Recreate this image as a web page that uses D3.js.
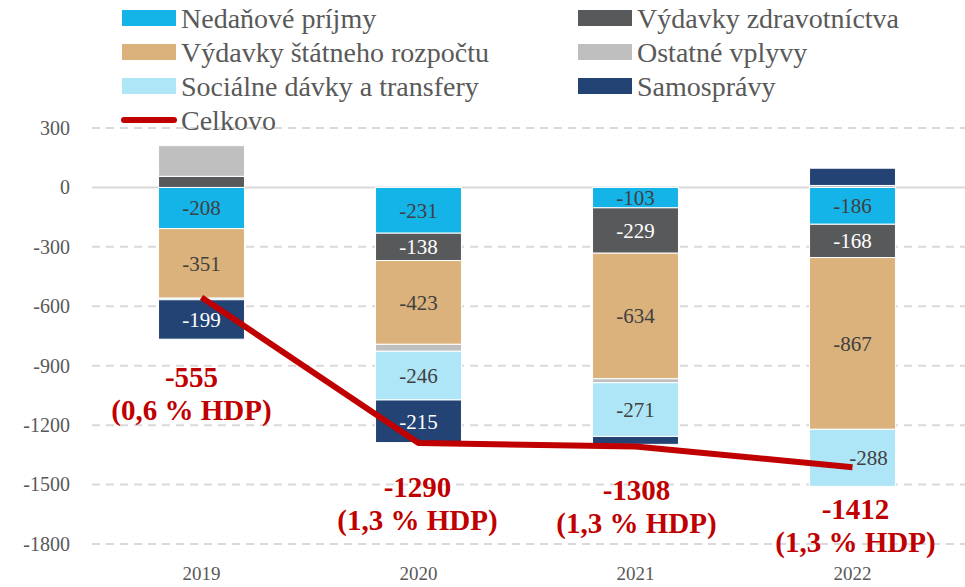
<!DOCTYPE html>
<html>
<head>
<meta charset="utf-8">
<script src="https://cdn.jsdelivr.net/npm/d3@7"></script>
<style>
  body { margin: 0; background: #fff; }
  svg text { font-family: "Liberation Serif", "DejaVu Serif", serif; }
</style>
</head>
<body>
<div id="chart"></div>
<script>
// data
const years = ['2019', '2020', '2021', '2022']
const seriesNames = ['Nedaňové príjmy', 'Výdavky zdravotníctva', 'Výdavky štátneho rozpočtu',
                     'Ostatné vplyvy', 'Sociálne dávky a transfery', 'Samosprávy']
const nedanove = [-208, -231, -103, -186]
const zdravotnictvo = [56, -138, -229, -168]
const statnyRozpocet = [-351, -423, -634, -867]
const ostatne = [155, -35, -20, 10]
const socialne = [-8, -246, -271, -288]
const samospravy = [-199, -215, -40, 87]
const celkovo = [-555, -1290, -1308, -1412]
const hdp = ['0,6', '1,3', '1,3', '1,3']
const yTicks = [300, 0, -300, -600, -900, -1200, -1500, -1800]

const colors = ['#14B4E9', '#58595B', '#DBB27B', '#BFBFBF', '#AEE6F8', '#234374']
const labelColors = ['#404040', '#ffffff', '#404040', '#404040', '#404040', '#ffffff']
const lineColor = '#C00000'
const fontFam = '"Liberation Serif", serif'

const width = 965, height = 587

var svg = d3.select('#chart').append('svg')
    .attr('width', width)
    .attr('height', height)

var x = d3.scaleBand()
    .domain(years)
    .range([93, 961])
    .paddingInner(0.604)
    .paddingOuter(0.302)

var y = d3.scaleLinear()
    .domain([-1800, 300])
    .range([544, 128])

// table for the stack
const allSeries = [nedanove, zdravotnictvo, statnyRozpocet, ostatne, socialne, samospravy]
const table = years.map((yr, i) => {
    let row = {year: yr}
    seriesNames.forEach((s, j) => row[s] = allSeries[j][i])
    return row
})

const stacked = d3.stack()
    .keys(seriesNames)
    .offset(d3.stackOffsetDiverging)(table)

// gridlines
svg.append('g')
    .selectAll('line')
    .data(yTicks)
    .enter()
    .append('line')
    .attr('x1', 92)
    .attr('x2', width)
    .attr('y1', d => y(d))
    .attr('y2', d => y(d))
    .style('stroke', '#D9D9D9')
    .style('stroke-width', 2)
    .style('stroke-dasharray', d => d === 0 ? null : '8,6')

// y axis labels (plain hyphen, no thousands separator)
var yAxis = d3.axisLeft(y).tickValues(yTicks).tickSize(0).tickPadding(0)
    .tickFormat(d => String(d))
svg.append('g')
    .attr('transform', 'translate(70,0)')
    .call(yAxis)
    .attr('font-family', fontFam)
    .attr('font-size', 20)
    .call(g => g.select('.domain').remove())
    .selectAll('text')
    .style('fill', '#595959')

// x axis labels
var xAxis = d3.axisBottom(x).tickSize(0).tickPadding(0)
svg.append('g')
    .attr('transform', 'translate(0,566)')
    .call(xAxis)
    .attr('font-family', fontFam)
    .attr('font-size', 19)
    .call(g => g.select('.domain').remove())
    .selectAll('text')
    .style('fill', '#595959')

// stacked bars
var layers = svg.append('g')
    .selectAll('g')
    .data(stacked)
    .enter()
    .append('g')
    .style('fill', (d, i) => colors[i])

layers.selectAll('rect')
    .data(d => d)
    .enter()
    .append('rect')
    .attr('x', d => x(d.data.year))
    .attr('width', x.bandwidth())
    .attr('y', d => y(Math.max(d[0], d[1])))
    .attr('height', d => Math.abs(y(d[0]) - y(d[1])))
    .style('stroke', '#fff')
    .style('stroke-width', 1)

// value labels inside the bigger negative segments
stacked.forEach((layer, i) => {
    svg.append('g')
        .selectAll('text')
        .data(layer.filter(d => d.data[layer.key] <= -100))
        .enter()
        .append('text')
        .attr('x', d => x.bandwidth() / 2 + x(d.data.year) + (d.data.year === '2022' && i === 4 ? 16 : 0))
        .attr('y', d => y((d[0] + d[1]) / 2))
        .attr('dy', '0.35em')
        .attr('text-anchor', 'middle')
        .style('font-size', '21px')
        .style('fill', labelColors[i])
        .text(d => String(d.data[layer.key]))
})

// total line
var line = d3.line()
    .x((d, i) => x(years[i]) + x.bandwidth() / 2)
    .y(d => y(d))

svg.append('path')
    .datum(celkovo)
    .attr('d', line)
    .style('fill', 'none')
    .style('stroke', lineColor)
    .style('stroke-width', 6)
    .style('stroke-linejoin', 'round')

// total labels
const labelDy = [81, 45, 44, 43]
const labelDx = [-10, -1, 1, 3]
var totals = svg.append('g')
    .selectAll('text')
    .data(celkovo)
    .enter()
    .append('text')
    .attr('text-anchor', 'middle')
    .style('font-weight', 'bold')
    .style('fill', lineColor)
    .style('font-size', '29px')

totals.append('tspan')
    .attr('x', (d, i) => x(years[i]) + x.bandwidth() / 2 + labelDx[i])
    .attr('y', (d, i) => y(d) + labelDy[i] + 9)
    .text(d => String(d))

totals.append('tspan')
    .attr('x', (d, i) => x(years[i]) + x.bandwidth() / 2 + labelDx[i])
    .attr('y', (d, i) => y(d) + labelDy[i] + 42)
    .text((d, i) => `(${hdp[i]} % HDP)`)

// legend
const legendItems = seriesNames.concat(['Celkovo'])
var legend = svg.append('g')
    .selectAll('g')
    .data(legendItems)
    .enter()
    .append('g')
    .attr('transform', (d, i) => `translate(${i % 2 === 0 ? 122 : 578},${18 + Math.floor(i / 2) * 34})`)

legend.each(function(d, i) {
    var g = d3.select(this)
    if (i < seriesNames.length) {
        g.append('rect')
            .attr('x', 0)
            .attr('y', -8)
            .attr('width', 54)
            .attr('height', 16)
            .style('fill', colors[i])
    } else {
        g.append('line')
            .attr('x1', 2)
            .attr('x2', 52)
            .style('stroke', lineColor)
            .style('stroke-width', 6)
            .style('stroke-linecap', 'round')
    }
    g.append('text')
        .attr('x', 59)
        .attr('dy', '0.35em')
        .style('font-size', '28px')
        .style('fill', '#595959')
        .text(d)
})
</script>
</body>
</html>
